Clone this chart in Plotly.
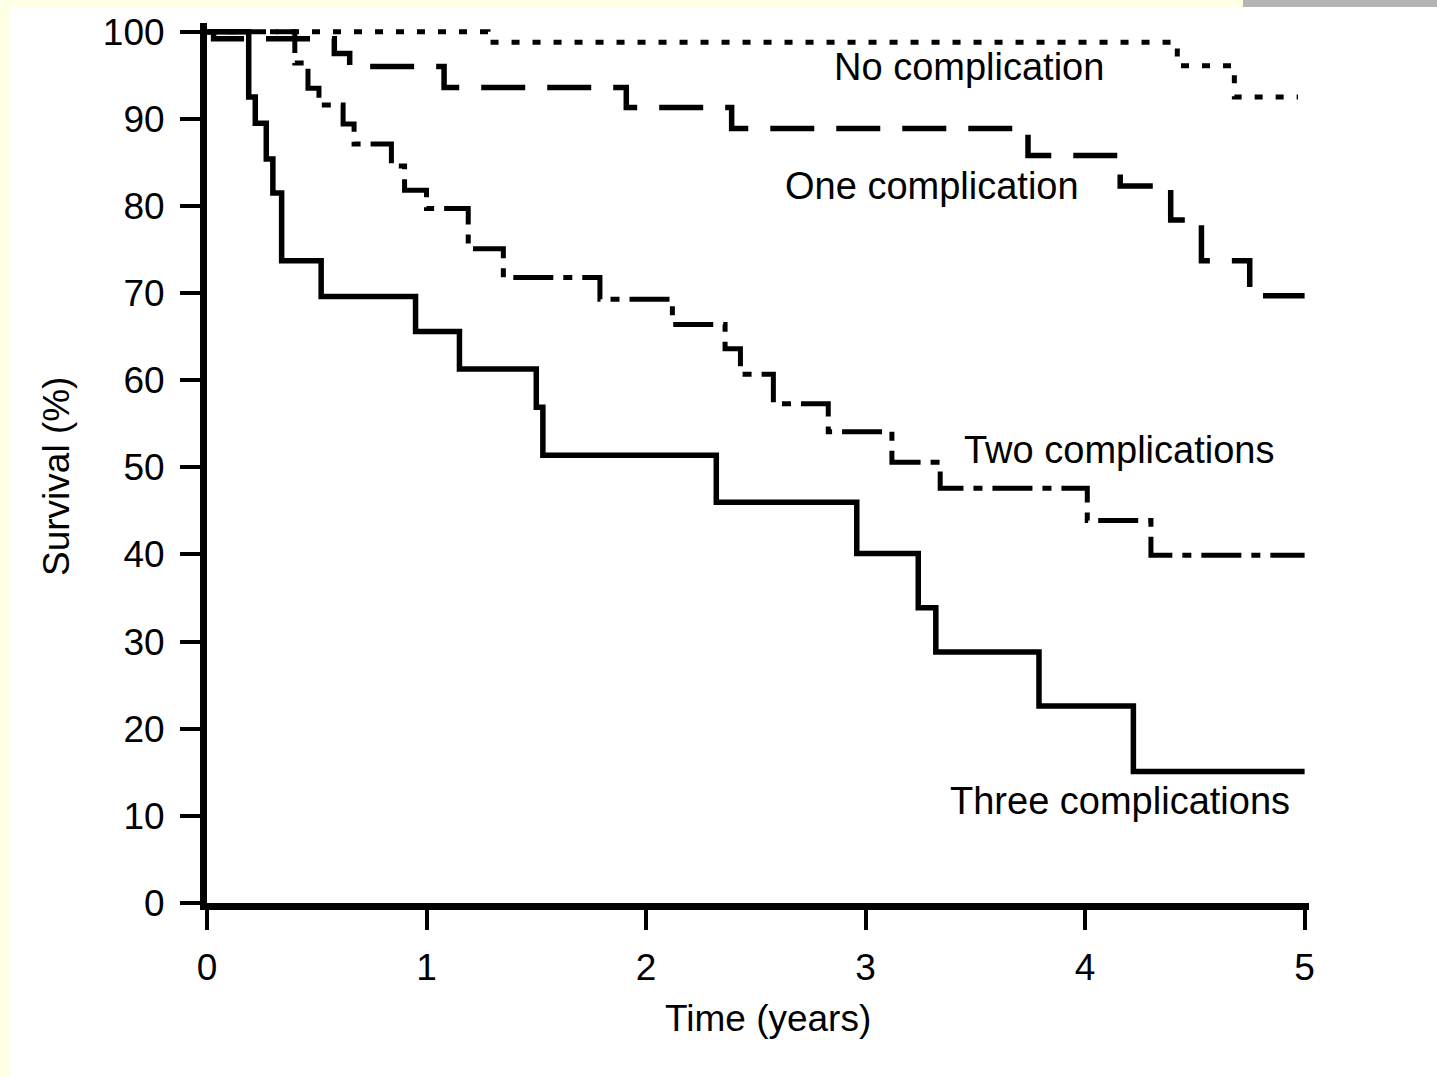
import plotly.graph_objects as go

# ---------------- data ----------------
none_t = [1.28, 4.42, 4.68]
none_v = [98.8, 96.1, 92.5]
none_end = 4.97

one_t = [0.03, 0.58, 0.65, 1.08, 1.91, 2.39, 3.74, 4.16, 4.39, 4.53, 4.75]
one_v = [99.2, 97.5, 96.0, 93.6, 91.3, 88.9, 85.8, 82.3, 78.4, 73.7, 69.7]
one_end = 5.0

two_t = [0.40, 0.46, 0.51, 0.62, 0.67, 0.84, 0.90, 1.00, 1.19, 1.35, 1.79,
         2.12, 2.36, 2.43, 2.58, 2.83, 3.12, 3.34, 4.01, 4.30]
two_v = [96.4, 93.5, 91.6, 89.4, 87.1, 84.6, 81.8, 79.7, 75.1, 71.8, 69.3,
         66.4, 63.6, 60.7, 57.3, 54.1, 50.6, 47.6, 43.9, 39.9]
two_end = 5.0

three_t = [0.19, 0.22, 0.27, 0.30, 0.34, 0.52, 0.95, 1.15, 1.50, 1.53,
           2.32, 2.96, 3.24, 3.32, 3.79, 4.22]
three_v = [92.5, 89.5, 85.4, 81.5, 73.7, 69.6, 65.6, 61.3, 56.9, 51.4,
           46.0, 40.1, 33.9, 28.8, 22.6, 15.1]
three_end = 5.0

x_ticks = [0, 1, 2, 3, 4, 5]
y_ticks = [0, 10, 20, 30, 40, 50, 60, 70, 80, 90, 100]

labels = ["No complication", "One complication", "Two complications", "Three complications"]
label_x = [2.846, 2.623, 3.438, 3.374]
label_y = [96.0, 82.3, 52.0, 11.7]

FONT = "Liberation Sans, Arial, Helvetica, sans-serif"


def km(ts, vs, end):
    xs = [0] + list(ts) + [end]
    ys = [100] + list(vs) + [vs[-1]]
    return xs, ys


fig = go.Figure()
series = [
    (none_t, none_v, none_end, "8px,13px", 5),
    (one_t, one_v, one_end, "44px,22px", 5.5),
    (two_t, two_v, two_end, "40px,10px,9px,10px", 5),
    (three_t, three_v, three_end, "solid", 5.5),
]
for (ts, vs, end, dash, w), name in zip(series, labels):
    xs, ys = km(ts, vs, end)
    fig.add_trace(go.Scatter(x=xs, y=ys, mode="lines", name=name,
                             line=dict(shape="hv", color="black", width=w, dash=dash),
                             showlegend=False, hoverinfo="skip"))

annotations = []
for txt, ax, ay in zip(labels, label_x, label_y):
    annotations.append(dict(x=ax, y=ay, xref="x", yref="y", text=txt, showarrow=False,
                            xanchor="left", yanchor="middle",
                            font=dict(family=FONT, size=38, color="black")))

# geometry helpers (pixels -> paper)
L, R_PX, T, B_PX = 207, 1309, 23, 903
W, H = R_PX - L, B_PX - T


def px(x):
    return (x - L) / W


def py(y):
    return (B_PX - y) / H


annotations.append(dict(x=px(57), y=py(477), xref="paper", yref="paper", text="Survival (%)",
                        textangle=-90, showarrow=False, xanchor="center", yanchor="middle",
                        font=dict(family=FONT, size=37, color="black")))
annotations.append(dict(x=px(768), y=py(1018), xref="paper", yref="paper", text="Time (years)",
                        showarrow=False, xanchor="center", yanchor="middle",
                        font=dict(family=FONT, size=37, color="black")))

shapes = [
    dict(type="rect", xref="paper", yref="paper", x0=px(0), x1=px(10), y0=py(1077), y1=py(0),
         fillcolor="#FFFFE6", line=dict(width=0), layer="below"),
    dict(type="rect", xref="paper", yref="paper", x0=px(0), x1=px(1243), y0=py(7), y1=py(0),
         fillcolor="#FFFFE6", line=dict(width=0), layer="below"),
    dict(type="rect", xref="paper", yref="paper", x0=px(1243), x1=px(1437), y0=py(7), y1=py(0),
         fillcolor="#B4B4B4", line=dict(width=0), layer="below"),
]

fig.update_layout(
    width=1437, height=1077,
    margin=dict(l=L, r=1437 - R_PX, t=T, b=1077 - B_PX, pad=0),
    paper_bgcolor="white", plot_bgcolor="white",
    font=dict(family=FONT, size=37, color="black"),
    annotations=annotations, shapes=shapes,
    xaxis=dict(range=[0, 5.02], tickvals=x_ticks, ticktext=[str(v) for v in x_ticks],
               showgrid=False, zeroline=False, showline=True, linecolor="black", linewidth=7,
               ticks="outside", ticklen=20, tickwidth=4, tickcolor="black",
               tickfont=dict(family=FONT, size=37, color="black"), ticklabelstandoff=6),
    yaxis=dict(range=[0, 101], tickvals=y_ticks, ticktext=[str(v) for v in y_ticks],
               showgrid=False, zeroline=False, showline=True, linecolor="black", linewidth=7,
               ticks="outside", ticklen=20, tickwidth=4, tickcolor="black",
               tickfont=dict(family=FONT, size=37, color="black"), ticklabelstandoff=8),
)

fig.write_html("out.html")
